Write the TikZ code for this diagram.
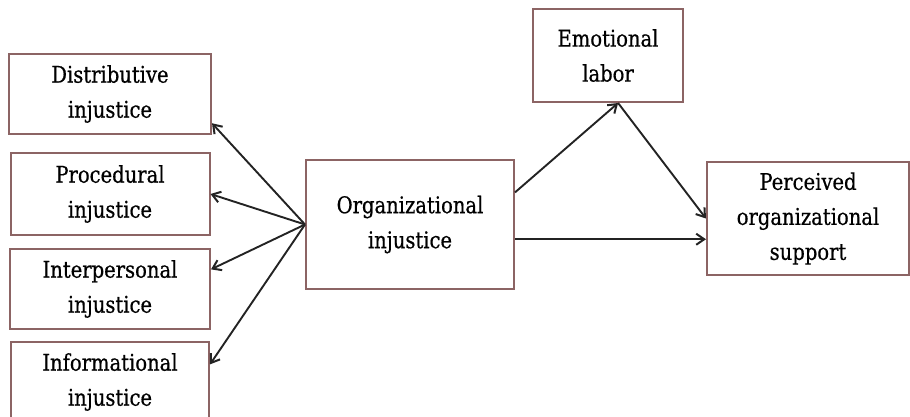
\documentclass[tikz,border=0pt]{standalone}
\usepackage{fontspec}
\setmainfont[FakeStretch=0.85, FakeBold=0.6]{DejaVu Serif}
\usetikzlibrary{positioning,arrows.meta}
\definecolor{BoxEdge}{RGB}{140,100,100}
\definecolor{LinkGray}{RGB}{35,35,35}

\begin{document}
\begin{tikzpicture}[x=1pt, y=-1pt,
  box/.style={rectangle, draw=BoxEdge, line width=2pt, align=center, inner sep=0pt, font=\fontsize{23}{35}\selectfont},
  arrow/.style={-{Straight Barb[length=8pt, width=11pt, line width=2pt]}, line width=1.9pt, LinkGray}
]
  \useasboundingbox (0,0) rectangle (910,417);

  % four facets on the left
  \node[box, minimum width=202pt, minimum height=80pt] (dist) at (110,94) {Distributive\\injustice};
  \node[box, minimum width=199pt, minimum height=82pt, below=17pt of dist] (proc) {Procedural\\injustice};
  \node[box, minimum width=200pt, minimum height=80pt, below=12pt of proc] (inter) {Interpersonal\\injustice};
  \node[box, minimum width=198pt, minimum height=80pt, below=11pt of inter] (info) {Informational\\injustice};

  % core model
  \node[box, minimum width=208pt, minimum height=129pt] (org) at (410,224.5) {Organizational\\injustice};
  \node[box, minimum width=150pt, minimum height=93pt] (emo) at (608,55.5) {Emotional\\labor};
  \node[box, minimum width=202pt, minimum height=113pt] (pos) at (808,218.5) {Perceived\\organizational\\support};

  \draw[arrow] (org.west) -- (dist.-16);
  \draw[arrow] (org.west) -- (proc.east);
  \draw[arrow] (org.west) -- (inter.11);
  \draw[arrow] (org.west) -- (info.10);

  \draw[arrow] (org.17) -- (emo.-78);
  \draw[arrow] (emo.-78) -- (pos.west);
  \draw[arrow] (org.-8) -- (org.-8 -| pos.west);
\end{tikzpicture}
\end{document}
